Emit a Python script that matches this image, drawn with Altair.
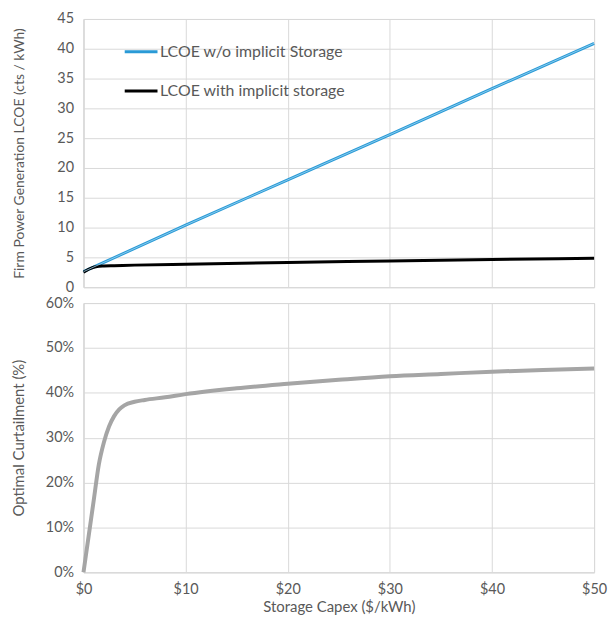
import altair as alt
import pandas as pd

# ---- data ----
capex_blue = [0, 10, 20, 30, 40, 50]
lcoe_without = [2.6, 10.4, 18.0, 25.6, 33.3, 40.9]

capex_black = [0, 0.5, 1, 1.5, 2, 3, 5, 10, 20, 30, 40, 50]
lcoe_with = [2.5, 3.0, 3.35, 3.5, 3.55, 3.6, 3.7, 3.85, 4.15, 4.4, 4.65, 4.85]

capex_curt = [0, 0.5, 1, 1.5, 2, 2.5, 3, 3.5, 4, 5, 6, 8, 10, 15, 20, 25, 30, 35, 40, 45, 50]
curtailment = [0.0, 0.08, 0.16, 0.24, 0.29, 0.325, 0.348, 0.363, 0.372, 0.38, 0.384, 0.39,
               0.397, 0.41, 0.42, 0.429, 0.437, 0.442, 0.447, 0.451, 0.454]

series_names = ["LCOE w/o implicit Storage", "LCOE with implicit storage"]
series_colors = ["#2a9ad6", "#000000"]

x_ticks = [0, 10, 20, 30, 40, 50]
lcoe_ticks = [0, 5, 10, 15, 20, 25, 30, 35, 40, 45]
curt_ticks = [0, 0.1, 0.2, 0.3, 0.4, 0.5, 0.6]

df_lcoe = pd.concat([
    pd.DataFrame({"capex": capex_blue, "lcoe": lcoe_without, "series": series_names[0]}),
    pd.DataFrame({"capex": capex_black, "lcoe": lcoe_with, "series": series_names[1]}),
])
df_blue = pd.DataFrame({"capex": capex_blue, "lcoe": lcoe_without})
df_curt = pd.DataFrame({"capex": capex_curt, "curt": curtailment})

TXT = "#595959"
W = 514
H1 = 270
H2 = 271

x_top = alt.X("capex:Q", scale=alt.Scale(domain=[0, 50], nice=False),
              axis=alt.Axis(values=x_ticks, labels=False, title=None, labelPadding=0))
y_top = alt.Y("lcoe:Q", scale=alt.Scale(domain=[0, 45], nice=False),
              axis=alt.Axis(values=lcoe_ticks, labelOverlap=False,
                            title="Firm Power Generation LCOE  (cts / kWh)",
                            titleX=-57, titleY=H1 / 2))
x_bot = alt.X("capex:Q", scale=alt.Scale(domain=[0, 50], nice=False),
              axis=alt.Axis(values=x_ticks, labelExpr="'$' + datum.value", labelFlush=False,
                            labelOverlap=False, titleFontSize=15,
                            title="Storage Capex ($/kWh)", labelPadding=10, titlePadding=4))

lines = alt.Chart(df_lcoe).mark_line(strokeWidth=3, interpolate="monotone").encode(
    x=x_top,
    y=y_top,
    color=alt.Color("series:N", scale=alt.Scale(domain=series_names, range=series_colors),
                    legend=alt.Legend(title=None, orient="none", legendX=40, legendY=15,
                                      symbolType="stroke", symbolSize=1089, symbolStrokeWidth=3,
                                      labelFontSize=16, labelColor=TXT, labelFont="Lato",
                                      labelLimit=400, rowPadding=13.5, labelOffset=1)),
    order=alt.Order("series:N", sort="descending"),
)
highlight = alt.Chart(df_blue).mark_line(strokeWidth=0.8, color="#9fd6f3").encode(
    x=x_top, y=y_top
)
top = alt.layer(lines, highlight).properties(width=W, height=H1)

bottom = alt.Chart(df_curt).mark_line(strokeWidth=4, color="#a5a5a5", interpolate="monotone").encode(
    x=x_bot,
    y=alt.Y("curt:Q", scale=alt.Scale(domain=[0, 0.6], nice=False),
            axis=alt.Axis(values=curt_ticks, format=".0%", labelOverlap=False,
                          title="Optimal Curtailment (%)", titleFontSize=15,
                          titleX=-57, titleY=H2 / 2)),
).properties(width=W, height=H2)

chart = alt.vconcat(top, bottom, spacing=0).properties(
    padding={"left": 3, "top": 0, "right": 0, "bottom": 0}
).configure(font="Lato").configure_axis(
    labelFont="Lato", labelFontSize=14.5, labelColor=TXT, labelPadding=10,
    titleFont="Lato", titleFontSize=14, titleFontWeight="normal", titleColor=TXT,
    gridColor="#d9d9d9", domainColor="#d9d9d9", ticks=False, grid=True,
).configure_view(stroke="#d9d9d9")

chart.save("out.html", embed_options={"renderer": "svg", "actions": False})
